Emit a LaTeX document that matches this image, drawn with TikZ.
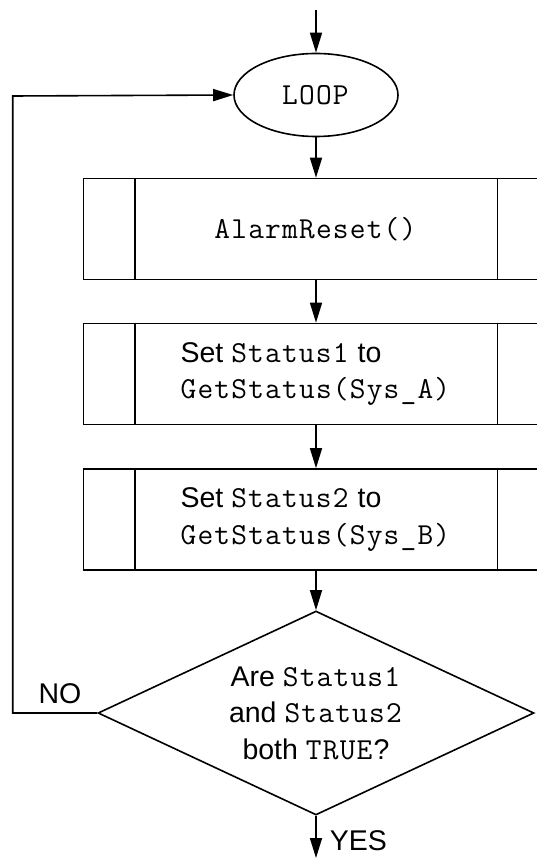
\documentclass[tikz,border=0pt]{standalone}
\usepackage{fontspec}
\setmainfont{Liberation Sans}
\setmonofont{Latin Modern Mono}[Scale=1.07,LetterSpace=4]
\usetikzlibrary{arrows.meta,shapes.geometric}
\begin{document}
\begin{tikzpicture}[x=1pt,y=-1pt,
  line width=1.6pt,
  txt/.style={font=\fontsize{28.5}{36.5}\selectfont, text=black},
  flow/.style={-{Triangle[length=20pt,width=12pt]}},
  procbox/.style={txt, draw, rectangle, minimum width=465pt, minimum height=101pt, inner sep=0pt, align=left},
  loopnode/.style={txt, draw, ellipse, minimum width=164pt, minimum height=83pt, inner sep=0pt},
  decision/.style={txt, draw, diamond, aspect=2.137, minimum width=436pt, minimum height=204pt, inner sep=0pt, align=center},
  lbl/.style={txt}]
\clip (0,0) rectangle (537,858);
\coordinate (start) at (316,10);
\node[loopnode] (loop) at (316,95) {\texttt{LOOP}};
\node[procbox] (b1) at (316,229) {\texttt{AlarmReset()}};
\node[procbox] (b2) at (316,374) {Set \texttt{Status1} to\\\texttt{GetStatus(Sys\_A)}};
\node[procbox] (b3) at (316,519.5) {Set \texttt{Status2} to\\\texttt{GetStatus(Sys\_B)}};
\node[decision] (dec) at (316,713) {Are \texttt{Status1}\\and \texttt{Status2}\\both \texttt{TRUE}?};
\foreach \b in {b1,b2,b3} {
  \draw ([xshift=52pt]\b.north west) -- ([xshift=52pt]\b.south west);
  \draw ([xshift=-52pt]\b.north east) -- ([xshift=-52pt]\b.south east);
}
\coordinate (endpt) at (316,858);
\coordinate (lb) at (12.7,713);
\coordinate (lt) at (12.7,96);
\draw[flow] (start) -- (loop.north);
\draw[flow] (loop.south) -- (b1.north);
\draw[flow] (b1.south) -- (b2.north);
\draw[flow] (b2.south) -- (b3.north);
\draw[flow] (b3.south) -- (dec.north);
\draw[flow] (dec.south) -- (endpt);
\draw[flow] (dec.west) -- (lb) -- (lt) -- (loop.west);
\node[lbl] (no) at (60,694) {NO};
\node[lbl, anchor=west, inner sep=0pt] (yes) at (329,841) {YES};
\end{tikzpicture}
\end{document}
